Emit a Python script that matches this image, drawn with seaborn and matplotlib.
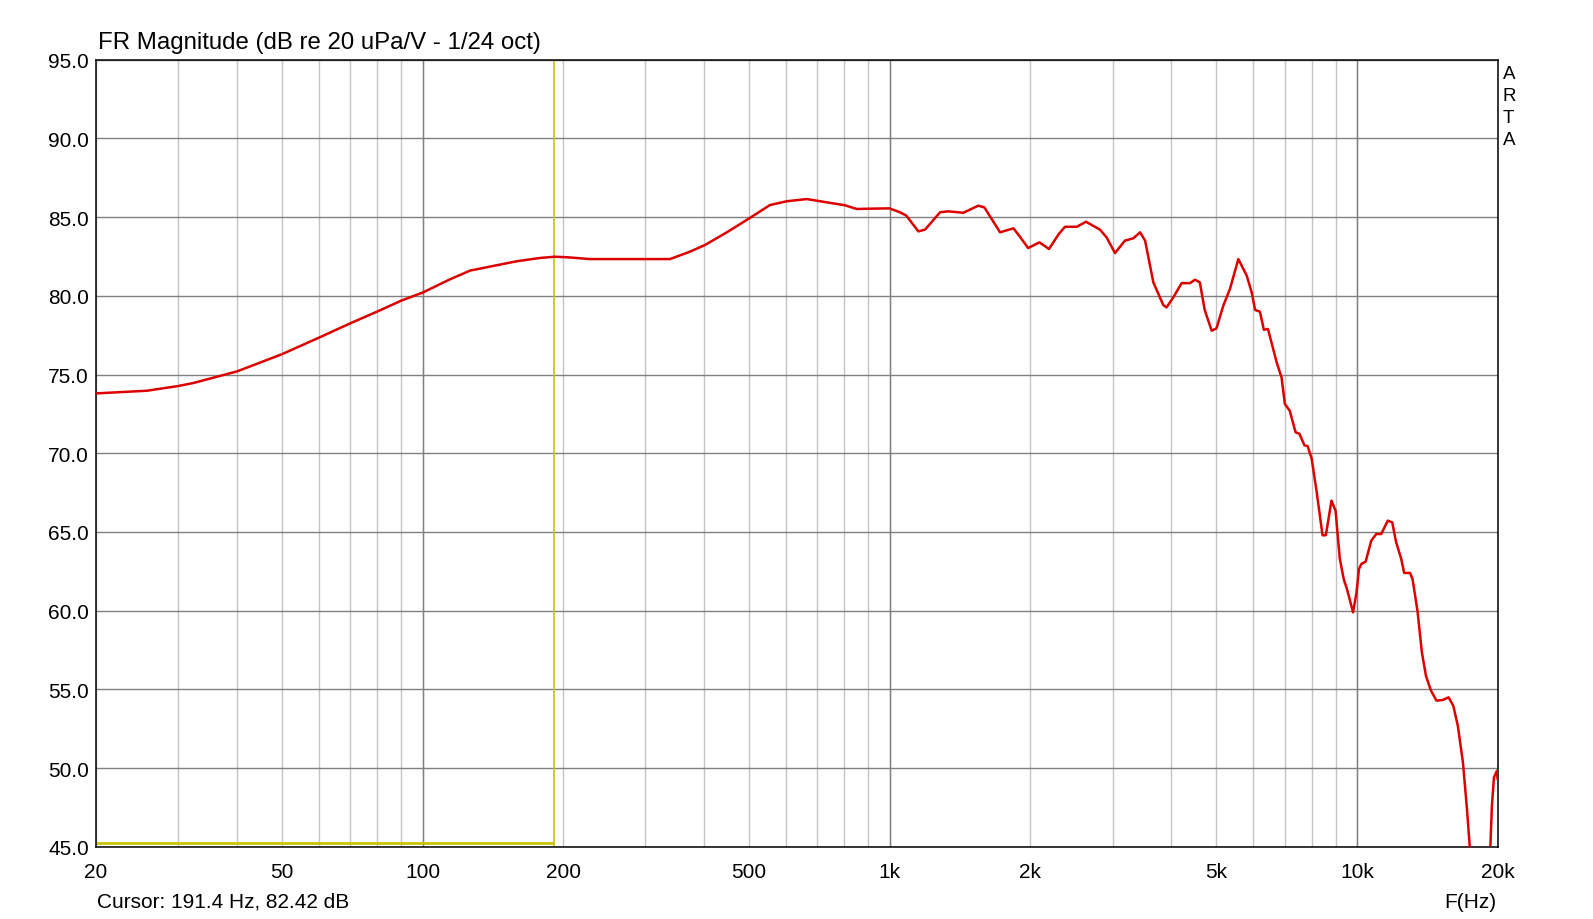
import numpy as np
import pandas as pd
import seaborn as sns
import matplotlib.pyplot as plt
from matplotlib.ticker import FixedLocator, FormatStrFormatter, NullFormatter

# Frequency response data (Hz, dB)
freq = [
    20, 25.7, 30, 32.3, 40.1, 50.1, 60, 70, 80, 90,
    100, 113.6, 126.4, 159, 178.3, 192, 205, 228, 338.6, 373.5,
    402, 448, 500.6, 554, 601.6, 664, 696, 745, 801, 850,
    908, 998, 1052, 1085, 1151, 1190, 1281, 1334, 1437, 1547,
    1594, 1722, 1840, 1899, 1978, 2091, 2192, 2300, 2372, 2513,
    2630, 2818, 2911, 3035, 3186, 3322, 3434, 3520, 3666, 3850,
    3912, 4045, 4214, 4393, 4500, 4610, 4722, 4887, 5004, 5175,
    5347, 5573, 5810, 5954, 6054, 6199, 6321, 6450, 6731, 6898,
    7010, 7180, 7390, 7530, 7720, 7840, 8000, 8200, 8440, 8580,
    8820, 9000, 9190, 9370, 9520, 9810, 9980, 10100, 10220, 10440,
    10730, 11000, 11270, 11640, 11900, 12130, 12440, 12620, 12990, 13150,
    13480, 13770, 14050, 14400, 14800, 15250, 15710, 16080, 16440, 16860,
    17200, 17440, 17800, 18900, 19300, 19450, 19650, 19940, 20000,
]
spl = [
    73.8, 73.97, 74.27, 74.46, 75.2, 76.3, 77.34, 78.25, 79.0, 79.69,
    80.2, 81.0, 81.6, 82.19, 82.4, 82.48, 82.44, 82.33, 82.33, 82.8,
    83.22, 84.03, 84.92, 85.76, 86.0, 86.14, 86.04, 85.9, 85.75, 85.51,
    85.53, 85.55, 85.3, 85.09, 84.09, 84.2, 85.3, 85.36, 85.27, 85.72,
    85.61, 84.03, 84.28, 83.75, 83.03, 83.39, 82.97, 83.92, 84.38, 84.38,
    84.7, 84.2, 83.71, 82.71, 83.5, 83.65, 84.03, 83.5, 80.85, 79.41,
    79.26, 79.9, 80.8, 80.8, 81.02, 80.85, 79.1, 77.78, 77.93, 79.37,
    80.43, 82.33, 81.27, 80.2, 79.1, 78.99, 77.84, 77.89, 75.78, 74.8,
    73.13, 72.7, 71.33, 71.24, 70.5, 70.46, 69.66, 67.54, 64.79, 64.8,
    66.99, 66.35, 63.3, 62.0, 61.38, 59.9, 61.17, 62.65, 62.97, 63.12,
    64.45, 64.87, 64.87, 65.72, 65.61, 64.35, 63.29, 62.4, 62.4, 62.02,
    59.97, 57.37, 55.87, 54.93, 54.29, 54.33, 54.5, 53.96, 52.7, 50.37,
    47.4, 45.0, 42.0, 42.0, 45.0, 47.62, 49.43, 49.84, 49.3,
]

xtick_vals = [20, 50, 100, 200, 500, 1000, 2000, 5000, 10000, 20000]
xtick_labels = ["20", "50", "100", "200", "500", "1k", "2k", "5k", "10k", "20k"]
ytick_vals = [45, 50, 55, 60, 65, 70, 75, 80, 85, 90, 95]

cursor_freq = 191.4
cursor_db = 82.42

df = pd.DataFrame({"freq": freq, "spl": spl})

sns.set_style("white")
plt.rcParams["font.family"] = ["Liberation Sans", "DejaVu Sans"]
plt.rcParams["text.color"] = "black"

fig = plt.figure(figsize=(15.93, 9.20), dpi=100)
ax = fig.add_axes([0.0603, 0.0783, 0.8798, 0.8559])

ax.set_xscale("log")
ax.set_xlim(20, 20000)
ax.set_ylim(45, 95)

# grid: light minor verticals, darker decades and horizontals
minor = [m * d for d in (10, 100, 1000, 10000) for m in range(1, 10) if 20 <= m * d <= 20000]
ax.xaxis.set_minor_locator(FixedLocator(minor))
ax.xaxis.set_minor_formatter(NullFormatter())
ax.grid(axis="x", which="both", color="#c4c4c4", lw=1.0)
ax.grid(axis="y", which="major", color="#808080", lw=1.0)
for d in (100, 1000, 10000):
    ax.axvline(d, color="#808080", lw=1.0, zorder=1)

# cursor
ax.axvline(cursor_freq, color="#c8c400", lw=1.2, zorder=2)
ax.hlines(45.25, 20, cursor_freq, color="#c8c400", lw=2.0, zorder=2)

sns.lineplot(data=df, x="freq", y="spl", ax=ax, color="#dd0000", lw=1.8,
             estimator=None, legend=False, zorder=3)

ax.set_xticks(xtick_vals)
ax.set_xticklabels(xtick_labels)
ax.set_yticks(ytick_vals)
ax.yaxis.set_major_formatter(FormatStrFormatter("%.1f"))
ax.tick_params(axis="x", which="both", length=0, pad=11, labelsize=15,
               colors="black", labelcolor="black")
ax.tick_params(axis="y", length=0, pad=5, labelsize=15,
               colors="black", labelcolor="black")
ax.set_xlabel("")
ax.set_ylabel("")
for s in ax.spines.values():
    s.set_color("black")
    s.set_linewidth(1.1)
    s.set_visible(True)

fig.text(0.0618, 0.9535, "FR Magnitude (dB re 20 uPa/V - 1/24 oct)",
         fontsize=17.3, ha="left", va="center", color="black")
fig.text(0.0606, 0.0200, f"Cursor: {cursor_freq} Hz, {cursor_db} dB",
         fontsize=15, ha="left", va="center", color="black")
fig.text(0.9394, 0.0190, "F(Hz)", fontsize=15, ha="right", va="center", color="black")
fig.text(0.9435, 0.928, "A\nR\nT\nA", fontsize=13.5, ha="left", va="top",
         linespacing=1.38, color="black")

fig.savefig("out.png", dpi=100)
